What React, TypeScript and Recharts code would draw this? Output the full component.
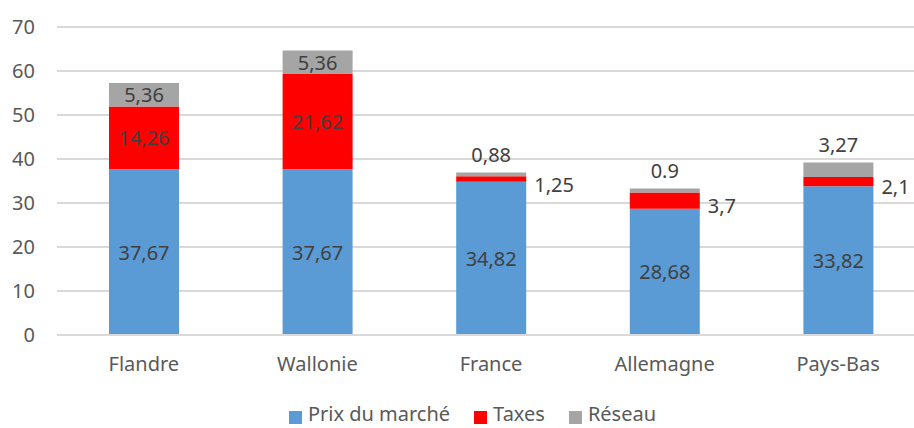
import React from 'react';
import { BarChart, Bar, XAxis, YAxis, CartesianGrid, Legend, LabelList } from 'recharts';

const categories = ['Flandre', 'Wallonie', 'France', 'Allemagne', 'Pays-Bas'];
const prix = [37.67, 37.67, 34.82, 28.68, 33.82];
const taxes = [14.26, 21.62, 1.25, 3.7, 2.1];
const reseau = [5.36, 5.36, 0.88, 0.9, 3.27];
const prixLabels = ['37,67', '37,67', '34,82', '28,68', '33,82'];
const taxesLabels = ['14,26', '21,62', '1,25', '3,7', '2,1'];
const reseauLabels = ['5,36', '5,36', '0,88', '0.9', '3,27'];
const seriesNames = ['Prix du marché', 'Taxes', 'Réseau'];
const yTicks = [0, 10, 20, 30, 40, 50, 60, 70];

const data = categories.map((name, i) => ({
    name,
    prix: prix[i],
    taxes: taxes[i],
    reseau: reseau[i],
    prixLabel: prixLabels[i],
    taxesLabel: taxesLabels[i],
    reseauLabel: reseauLabels[i],
}));

const FONT = '"Noto Sans", sans-serif';
const LABEL_COLOR = '#404040';

// inside when the segment is tall enough, otherwise outside (right or above)
const makeLabel = (minHeight: number, outside: 'right' | 'top') => (props: any) => {
    const { x, y, width, height, value } = props;
    let tx = x + width / 2;
    let ty = y + height / 2;
    let anchor: 'middle' | 'start' = 'middle';
    if (height < minHeight) {
        if (outside === 'right') {
            tx = x + width + 8;
            ty = y + height / 2 + 5;
            anchor = 'start';
        } else {
            ty = y - 18;
        }
    }
    return (
        <text x={tx} y={ty} textAnchor={anchor} dominantBaseline="central"
            fill={LABEL_COLOR} fontSize={20} fontFamily={FONT}>
            {value}
        </text>
    );
};

const legendText = (value: string) => (
    <span style={{ color: '#595959', fontSize: 20, lineHeight: '20px', fontFamily: FONT, marginRight: 14, marginLeft: 2 }}>{value}</span>
);

export default function App() {
    return (
        <div style={{ position: 'fixed', left: 0, top: 0, width: 914, height: 428, overflow: 'hidden', background: '#fff' }}>
            <BarChart width={940} height={428} data={data}
                margin={{ top: 27, right: 15, left: 0, bottom: 0 }}>
                <CartesianGrid vertical={false} stroke="#D9D9D9" strokeWidth={2} />
                <XAxis dataKey="name" height={40} tickLine={false} axisLine={{ stroke: '#D9D9D9', strokeWidth: 2 }}
                    tickMargin={16} tick={{ fill: '#595959', fontSize: 20, fontFamily: FONT }} />
                <YAxis width={57} domain={[0, 70]} ticks={yTicks} tickLine={false} axisLine={false}
                    tickMargin={16} tick={{ fill: '#595959', fontSize: 20, fontFamily: FONT }} />
                <Legend height={53} iconType="square" iconSize={13} formatter={legendText}
                    itemSorter={(item: any) => seriesNames.indexOf(item.value)}
                    wrapperStyle={{ bottom: -29, left: 22, lineHeight: '20px' }} />
                <Bar dataKey="prix" name="Prix du marché" stackId="a" fill="#5B9BD5" barSize={70} isAnimationActive={false}>
                    <LabelList dataKey="prixLabel" content={makeLabel(0, 'top')} />
                </Bar>
                <Bar dataKey="taxes" name="Taxes" stackId="a" fill="#FF0000" barSize={70} isAnimationActive={false}>
                    <LabelList dataKey="taxesLabel" content={makeLabel(30, 'right')} />
                </Bar>
                <Bar dataKey="reseau" name="Réseau" stackId="a" fill="#A5A5A5" barSize={70} isAnimationActive={false}>
                    <LabelList dataKey="reseauLabel" content={makeLabel(20, 'top')} />
                </Bar>
            </BarChart>
        </div>
    );
}
